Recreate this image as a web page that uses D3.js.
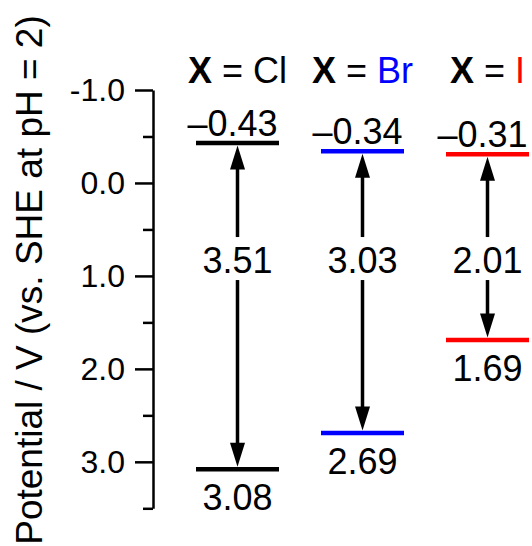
<!DOCTYPE html>
<html>
<head>
<meta charset="utf-8">
<script src="https://cdn.jsdelivr.net/npm/d3@7"></script>
<style>
  body { margin: 0; background: #fff; }
  svg { display: block; font-family: "Liberation Sans", Arial, Helvetica, sans-serif; }
</style>
</head>
<body>
<script>
// Band-edge potentials for the three halides (V vs. SHE at pH 2)
const halides = ["Cl", "Br", "I"];
const halideColors = ["#000000", "#0000ff", "#ff0000"];
const upperLevels = [-0.43, -0.34, -0.31];
const lowerLevels = [3.08, 2.69, 1.69];
const gapLabels = ["3.51", "3.03", "2.01"];
const majorTicks = [-1.0, 0.0, 1.0, 2.0, 3.0];
const minorTicks = [-0.5, 0.5, 1.5, 2.5, 3.5];
const axisTitle = "Potential / V (vs. SHE at pH = 2)";

const W = 532, H = 546;
const gapLabelLevel = 0.84;   // potential at which the gap values are written
const halfLine = 41.5;        // half length of each level bar
const headLen = 24, headHalf = 7.5;

const svg = d3.select("body").append("svg")
  .attr("width", W).attr("height", H);

const y = d3.scaleLinear().domain([-1, 3.5]).range([90, 508.3]);
const x = d3.scaleBand().domain(halides).range([175, 550]);
const cx = d => x(d) + x.bandwidth() / 2;

// y axis: long labelled ticks every 1 V, short ticks in between
const axisG = svg.append("g").attr("transform", "translate(153,0)");
axisG.call(d3.axisLeft(y)
  .tickValues(majorTicks)
  .tickSize(18).tickPadding(10).tickSizeOuter(0)
  .tickFormat(d => d.toFixed(1)));
axisG.append("g").call(d3.axisLeft(y)
  .tickValues(minorTicks).tickSize(10).tickSizeOuter(0).tickFormat(""))
  .select(".domain").remove();
axisG.selectAll("path, line").attr("stroke", "#000").attr("stroke-width", 2.5);
axisG.selectAll("text").attr("font-size", 32).attr("fill", "#000")
  .attr("font-family", "Liberation Sans, Arial, sans-serif");

svg.append("text")
  .attr("transform", "translate(42,280) rotate(-90)")
  .attr("text-anchor", "middle")
  .attr("font-size", 37)
  .text(axisTitle);

const rows = halides.map((h, i) => ({
  h, color: halideColors[i], top: upperLevels[i], bottom: lowerLevels[i], gap: gapLabels[i]
}));

// column headers "X = Cl" etc.
const head = svg.selectAll("text.head").data(rows).enter().append("text")
  .attr("class", "head")
  .attr("x", d => cx(d.h)).attr("y", 83)
  .attr("text-anchor", "middle").attr("font-size", 36);
head.append("tspan").attr("font-weight", "bold").text("X");
head.append("tspan").text(" = ");
head.append("tspan").attr("fill", d => d.color).text(d => d.h);

const col = svg.selectAll("g.col").data(rows).enter().append("g").attr("class", "col");

// double-headed arrow spanning the gap
col.append("line")
  .attr("x1", d => cx(d.h)).attr("x2", d => cx(d.h))
  .attr("y1", d => y(d.top) + 2.5 + headLen - 2)
  .attr("y2", d => y(d.bottom) - 2.5 - headLen + 2)
  .attr("stroke", "#000").attr("stroke-width", 3.5);
col.append("path")
  .attr("d", d => {
    const c = cx(d.h), t = y(d.top) + 2.5;
    return `M${c},${t}L${c + headHalf},${t + headLen}L${c - headHalf},${t + headLen}Z`;
  }).attr("fill", "#000");
col.append("path")
  .attr("d", d => {
    const c = cx(d.h), b = y(d.bottom) - 2.5;
    return `M${c},${b}L${c + headHalf},${b - headLen}L${c - headHalf},${b - headLen}Z`;
  }).attr("fill", "#000");

// gap value, on a white patch that interrupts the arrow shaft
col.append("rect")
  .attr("x", d => cx(d.h) - 36).attr("width", 72)
  .attr("y", y(gapLabelLevel) + 12 - 36).attr("height", 43)
  .attr("fill", "#fff");
col.append("text")
  .attr("x", d => cx(d.h)).attr("y", y(gapLabelLevel) + 12)
  .attr("text-anchor", "middle").attr("font-size", 36)
  .text(d => d.gap);

// level bars
col.append("line")
  .attr("x1", d => cx(d.h) - halfLine).attr("x2", d => cx(d.h) + halfLine)
  .attr("y1", d => y(d.top)).attr("y2", d => y(d.top))
  .attr("stroke", d => d.color).attr("stroke-width", 4.5);
col.append("line")
  .attr("x1", d => cx(d.h) - halfLine).attr("x2", d => cx(d.h) + halfLine)
  .attr("y1", d => y(d.bottom)).attr("y2", d => y(d.bottom))
  .attr("stroke", d => d.color).attr("stroke-width", 4.5);

// level values
col.append("text")
  .attr("x", d => cx(d.h) - 5).attr("y", d => y(d.top) - 7)
  .attr("text-anchor", "middle").attr("font-size", 36)
  .text(d => "\u2013" + Math.abs(d.top).toFixed(2));
col.append("text")
  .attr("x", d => cx(d.h)).attr("y", d => y(d.bottom) + 41)
  .attr("text-anchor", "middle").attr("font-size", 36)
  .text(d => d.bottom.toFixed(2));
</script>
</body>
</html>
